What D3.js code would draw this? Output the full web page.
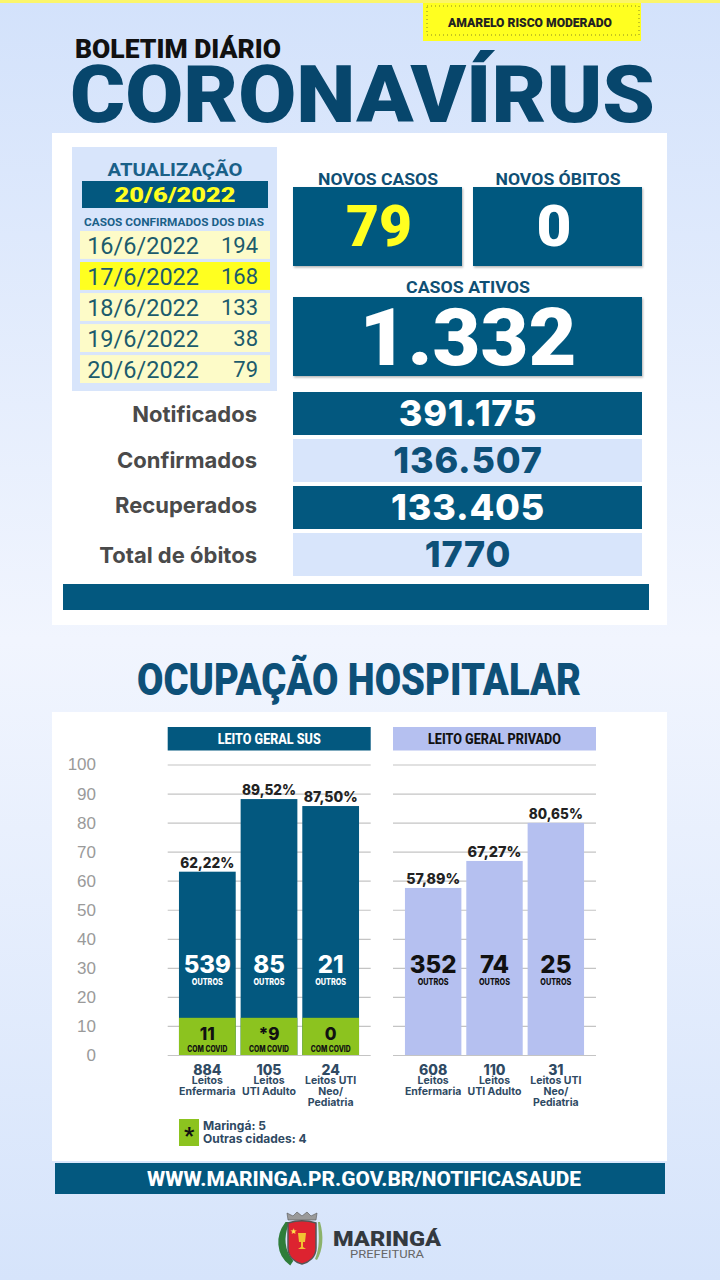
<!DOCTYPE html>
<html>
<head>
<meta charset="utf-8">
<title>Boletim Coronavírus</title>
<script src="https://cdn.jsdelivr.net/npm/d3@7"></script>
<style>
html, body { margin: 0; padding: 0; background: #e4ecfc; }
svg { display: block; }
text { font-family: Roboto, sans-serif; }
.wide text, text.wide { font-family: Inter, Roboto, sans-serif; }
</style>
</head>
<body>
<div id="chart"></div>
<script>
// data read from the bulletin
var recentDates = ["16/6/2022", "17/6/2022", "18/6/2022", "19/6/2022", "20/6/2022"];
var recentCases = [194, 168, 133, 38, 79];
var totalLabels = ["Notificados", "Confirmados", "Recuperados", "Total de óbitos"];
var totalValues = ["391.175", "136.507", "133.405", "1770"];

var yTicks = [0, 10, 20, 30, 40, 50, 60, 70, 80, 90, 100];
var bedCategories = ["Enfermaria", "UTI Adulto", "UTI Neo"];
var bedLabels = [["Leitos", "Enfermaria"], ["Leitos", "UTI Adulto"], ["Leitos UTI", "Neo/", "Pediatria"]];

// bar heights as drawn on the picture (they sit slightly off the printed percent)
var susHeights = [63.1, 88.1, 85.7];
var susCovidHeights = [12.8, 12.8, 12.8];
var susPercent = ["62,22%", "89,52%", "87,50%"];
var susOthers = [539, 85, 21];
var susCovid = ["11", "*9", "0"];
var susBeds = [884, 105, 24];

var privHeights = [57.5, 66.8, 79.9];
var privPercent = ["57,89%", "67,27%", "80,65%"];
var privOthers = [352, 74, 25];
var privBeds = [608, 110, 31];

var DARK = "#03587f", LIGHT = "#d8e5fb", GREEN = "#8cc31f", LAV = "#b5c0f0", YELLOW = "#ffff20", NAVY = "#0d5078";

var svg = d3.select("#chart").append("svg").attr("width", 720).attr("height", 1280);

var defs = svg.append("defs");
var grad = defs.append("linearGradient").attr("id", "bg").attr("x1", 0).attr("x2", 0).attr("y1", 0).attr("y2", 1);
grad.append("stop").attr("offset", "0%").attr("stop-color", "#d3e2fb");
grad.append("stop").attr("offset", "50%").attr("stop-color", "#f1f5fe");
grad.append("stop").attr("offset", "100%").attr("stop-color", "#d6e4fb");
var shadow = defs.append("filter").attr("id", "sh").attr("x", "-5%").attr("y", "-5%").attr("width", "110%").attr("height", "115%");
shadow.append("feDropShadow").attr("dx", 1).attr("dy", 1.5).attr("stdDeviation", 1.2).attr("flood-color", "#000").attr("flood-opacity", 0.3);

function box(x0, y0, x1, y1, fill, sh) {
	var r = svg.append("rect").attr("x", x0).attr("y", y0).attr("width", x1 - x0).attr("height", y1 - y0).attr("fill", fill);
	if (sh) r.attr("filter", "url(#sh)");
	return r;
}

// width: squeezes the glyphs to the width measured on the picture
function label(parent, str, x, y, size, weight, fill, anchor, width) {
	var t = parent.append("text").attr("x", x).attr("y", y).attr("font-size", size)
		.attr("font-weight", weight).attr("fill", fill).attr("text-anchor", anchor || "middle").text(str);
	if (width) t.attr("textLength", width).attr("lengthAdjust", "spacingAndGlyphs");
	return t;
}

box(0, 0, 720, 1280, "url(#bg)");
box(0, 0, 720, 3, "#fbf56a");

// header
box(423, 3, 641, 41, YELLOW);
svg.append("rect").attr("x", 427).attr("y", 6).attr("width", 212).attr("height", 29).attr("fill", "none")
	.attr("stroke", "#8a8a20").attr("stroke-width", 1).attr("stroke-dasharray", "1 3");
label(svg, "AMARELO RISCO MODERADO", 530, 27, 13.5, 900, "#222", "middle", 164);
label(svg, "BOLETIM DIÁRIO", 75, 58, 25, 900, "#111", "start", 206);
label(svg, "CORONAVÍRUS", 70, 122, 80, 900, "#07466c", "start", 585);

// top panel
box(52, 133, 667, 625, "#fff");
box(72, 147, 277, 391, LIGHT);
label(svg, "ATUALIZAÇÃO", 175, 176, 19, 700, "#1a6088", "middle", 135);
box(82, 181, 268, 208, DARK);
label(svg, "20/6/2022", 175, 202, 21, 900, YELLOW, "middle", 121);
label(svg, "CASOS CONFIRMADOS DOS DIAS", 174, 226, 11.5, 700, "#1a6088", "middle", 180);

var rowY = d3.scaleBand().domain(recentDates).range([231, 383]).paddingInner(0.1);
var rows = svg.selectAll(".row").data(recentDates).enter().append("g").attr("class", "row");
rows.append("rect").attr("x", 80).attr("width", 190)
	.attr("y", function(d) { return rowY(d); })
	.attr("height", rowY.bandwidth())
	.attr("fill", function(d, i) { return i == 1 ? YELLOW : "#fdfbc8"; });
rows.append("text").attr("x", 199).attr("text-anchor", "end").attr("font-size", 23.5).attr("fill", "#1c5b6c")
	.attr("y", function(d) { return rowY(d) + 23; })
	.text(function(d) { return d; });
rows.append("text").attr("x", 258).attr("text-anchor", "end").attr("font-size", 22).attr("fill", "#1c5b6c")
	.attr("y", function(d) { return rowY(d) + 22; })
	.text(function(d, i) { return recentCases[i]; });

label(svg, "NOVOS CASOS", 378, 185, 17, 700, "#0f4f74", "middle", 120);
label(svg, "NOVOS ÓBITOS", 558, 185, 17, 700, "#0f4f74", "middle", 125);
box(293, 187, 462, 266, DARK, true);
box(473, 187, 642, 266, DARK, true);
label(svg, "79", 379, 246, 57, 900, YELLOW, "middle", 66);
label(svg, "0", 554, 246, 57, 900, "#fff", "middle", 35);
label(svg, "CASOS ATIVOS", 468, 293, 17, 700, "#0f4f74", "middle", 124);
box(293, 297, 642, 376, DARK, true);
label(svg, "1.332", 468, 365, 80, 900, "#fff", "middle", 217);

var totalY = d3.scaleBand().domain(totalLabels).range([392, 576]).paddingInner(0.085);
var totals = svg.selectAll(".total").data(totalLabels).enter().append("g").attr("class", "total wide");
totals.append("rect").attr("x", 293).attr("width", 349)
	.attr("y", function(d) { return totalY(d); })
	.attr("height", totalY.bandwidth())
	.attr("fill", function(d, i) { return i % 2 ? LIGHT : DARK; });
totals.append("text").attr("x", 468).attr("text-anchor", "middle").attr("font-size", 36).attr("font-weight", 800)
	.attr("letter-spacing", 0.8)
	.attr("y", function(d) { return totalY(d) + 34; })
	.attr("fill", function(d, i) { return i % 2 ? NAVY : "#fff"; })
	.text(function(d, i) { return totalValues[i]; });
totals.append("text").attr("x", 257).attr("text-anchor", "end").attr("font-size", 22).attr("font-weight", 700).attr("fill", "#4a4a4a")
	.attr("y", function(d, i) { return totalY(d) + [30, 29, 27, 30][i]; })
	.text(function(d) { return d; });
box(63, 584, 649, 610, DARK);

label(svg, "OCUPAÇÃO HOSPITALAR", 137, 695, 44, 900, NAVY, "start", 444);

// hospital panel
box(52, 712, 667, 1161, "#fff");

var y = d3.scaleLinear().domain([0, 100]).range([1055, 764.5]);

var yAxis = svg.append("g").attr("transform", "translate(96,0)").call(d3.axisLeft(y).tickValues(yTicks).tickSize(0).tickPadding(0));
yAxis.select(".domain").remove();
yAxis.selectAll("text").style("font-family", "'Liberation Sans', sans-serif").attr("font-size", 17).attr("fill", "#9a9a9a");

function panel(opts) {
	var g = svg.append("g").attr("class", "wide");
	box(opts.x0, 727, opts.x1, 750.5, opts.headFill);
	label(svg, opts.title, (opts.x0 + opts.x1) / 2, 744, 14.5, 800, opts.headText, "middle", opts.titleWidth);

	// negative tick size flips the ticks over the plot
	var grid = g.append("g").attr("transform", "translate(" + opts.x0 + ",0)")
		.call(d3.axisLeft(y).tickValues(yTicks).tickSize(opts.x0 - opts.x1).tickFormat(""));
	grid.select(".domain").remove();
	grid.selectAll("line").attr("stroke", "#c4c4c4").attr("stroke-width", 1.2);

	var x = d3.scaleBand().domain(bedCategories).range(opts.range).paddingInner(0.08).paddingOuter(0.04);
	var bars = g.selectAll(".bar").data(bedCategories).enter().append("g").attr("class", "bar");
	var cx = function(d) { return x(d) + x.bandwidth() / 2; };

	bars.append("rect").attr("x", function(d) { return x(d); }).attr("width", x.bandwidth())
		.attr("y", function(d, i) { return y(opts.heights[i]); })
		.attr("height", function(d, i) { return y(0) - y(opts.heights[i]); })
		.attr("fill", opts.barFill);

	if (opts.covidHeights) {
		bars.append("rect").attr("x", function(d) { return x(d); }).attr("width", x.bandwidth())
			.attr("y", function(d, i) { return y(opts.covidHeights[i]); })
			.attr("height", function(d, i) { return y(0) - y(opts.covidHeights[i]); })
			.attr("fill", GREEN);
		bars.append("text").attr("x", cx).attr("y", 1040).attr("text-anchor", "middle")
			.attr("font-size", 17).attr("font-weight", 800).attr("fill", "#111")
			.text(function(d, i) { return opts.covid[i]; });
		bars.append("text").attr("x", cx).attr("y", 1052).attr("text-anchor", "middle")
			.attr("font-size", 8.5).attr("font-weight", 800).attr("fill", "#111")
			.attr("textLength", 40).attr("lengthAdjust", "spacingAndGlyphs").text("COM COVID");
	}

	bars.append("text").attr("x", cx).attr("text-anchor", "middle").attr("font-size", 14.5).attr("font-weight", 800).attr("fill", "#222")
		.attr("y", function(d, i) { return y(opts.heights[i]) - 4; })
		.attr("textLength", 54).attr("lengthAdjust", "spacingAndGlyphs")
		.text(function(d, i) { return opts.percent[i]; });
	bars.append("text").attr("x", cx).attr("y", 973).attr("text-anchor", "middle")
		.attr("font-size", 24).attr("font-weight", 800).attr("fill", opts.barText)
		.text(function(d, i) { return opts.others[i]; });
	bars.append("text").attr("x", cx).attr("y", 985).attr("text-anchor", "middle")
		.attr("font-size", 9).attr("font-weight", 800).attr("fill", opts.barText)
		.attr("textLength", 31).attr("lengthAdjust", "spacingAndGlyphs").text("OUTROS");

	bars.append("text").attr("x", cx).attr("y", 1075).attr("text-anchor", "middle")
		.attr("font-size", 14).attr("font-weight", 800).attr("fill", "#2f4a63")
		.text(function(d, i) { return opts.beds[i]; });
	bars.each(function(d, i) {
		var b = d3.select(this);
		bedLabels[i].forEach(function(line, j) {
			b.append("text").attr("x", cx(d)).attr("y", 1083.5 + j * 11.4).attr("text-anchor", "middle")
				.attr("font-size", 10.5).attr("font-weight", 700).attr("fill", "#2f4a63").text(line);
		});
	});
}

panel({
	x0: 167.7, x1: 370.7, range: [176.5, 361.5], title: "LEITO GERAL SUS", titleWidth: 103,
	headFill: DARK, headText: "#fff", barFill: DARK, barText: "#fff",
	heights: susHeights, covidHeights: susCovidHeights, covid: susCovid,
	percent: susPercent, others: susOthers, beds: susBeds
});
panel({
	x0: 393, x1: 596, range: [402.5, 586.5], title: "LEITO GERAL PRIVADO", titleWidth: 133,
	headFill: LAV, headText: "#111", barFill: LAV, barText: "#111",
	heights: privHeights, percent: privPercent, others: privOthers, beds: privBeds
});

// footnote
box(179, 1119, 199, 1146, GREEN);
label(svg, "*", 189, 1143, 22, 900, "#111");
label(svg, "Maringá: 5", 203, 1130, 12, 700, "#2f4a63", "start").classed("wide", true);
label(svg, "Outras cidades: 4", 203, 1143, 12, 700, "#2f4a63", "start").classed("wide", true);

// footer
box(55, 1163, 665, 1194, DARK);
label(svg, "WWW.MARINGA.PR.GOV.BR/NOTIFICASAUDE", 364, 1186, 21, 800, "#fff", "middle", 434);

// city crest
var crest = svg.append("g").attr("transform", "translate(302,1240)");
crest.append("path").attr("d", "M-16,-17 C-26,-4 -25,14 -12,24 L-10,21 C-19,10 -19,-4 -14,-17 Z").attr("fill", "#2f7d3a").attr("stroke", "#2f7d3a").attr("stroke-width", 2);
crest.append("path").attr("d", "M18,-18 C22,-4 21,10 15,20 L13,19 C18,8 17,-4 16,-18 Z").attr("fill", "#8bb26a");
crest.append("path").attr("d", "M-14,-20 L-15,-27 L-9,-24 L-5,-28 L0,-24 L5,-28 L9,-24 L15,-27 L14,-20 Z").attr("fill", "#9a9a9a").attr("stroke", "#555").attr("stroke-width", 0.6);
crest.append("path").attr("d", "M-14,-17 C-5,-20 5,-20 14,-17 L14,8 C14,17 7,22 0,24 C-7,22 -14,17 -14,8 Z")
	.attr("fill", "#dd2330").attr("stroke", "#555").attr("stroke-width", 1.5);
crest.append("path").attr("d", "M-4,-7 L4,-7 L3,2 L1,2 L1,7 L4,9 L-4,9 L-1,7 L-1,2 L-3,2 Z").attr("fill", "#f1c232");
label(crest, "★", -9, -6, 8, 400, "#ffe14d");

label(svg, "MARINGÁ", 333, 1246, 20.5, 900, "#33393f", "start", 108);
label(svg, "PREFEITURA", 387, 1257.5, 10, 400, "#666", "middle", 74);
</script>
</body>
</html>
